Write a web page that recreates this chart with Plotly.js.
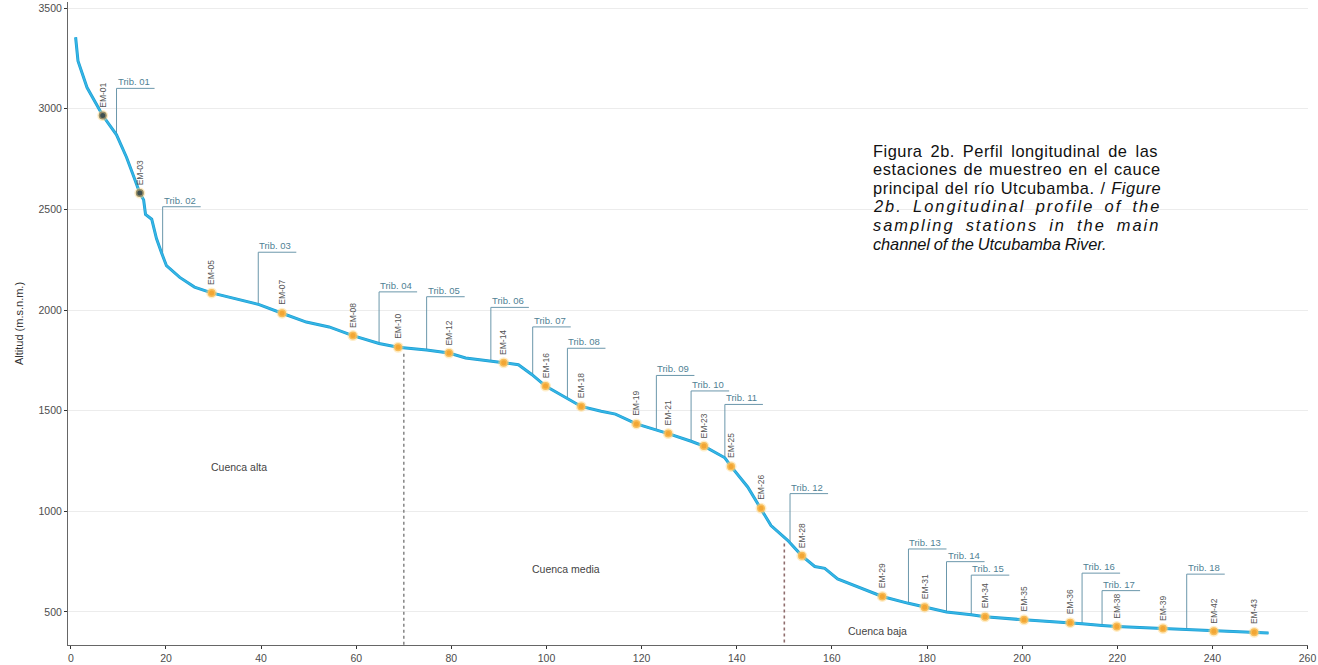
<!DOCTYPE html>
<html>
<head>
<meta charset="utf-8">
<script src="https://cdn.plot.ly/plotly-3.0.1.min.js"></script>
<style>html,body{margin:0;padding:0;background:#fff;}#chart{width:1318px;height:665px;}</style>
</head>
<body>
<div id="chart"></div>
<script>
// River longitudinal profile (km from source, altitude m.s.n.m.)
const profileKm = [1.0, 1.5, 3.4, 5.5, 6.7, 9.6, 11.7, 13.0, 14.5, 15.3, 15.7, 17.0, 18.0, 19.1, 20.1, 22.9, 26.0, 29.6, 34.0, 39.6, 44.4, 49.5, 54.3, 59.3, 64.8, 68.8, 74.8, 79.5, 83.0, 88.3, 91.0, 94.1, 96.9, 99.8, 104.6, 107.3, 111.5, 114.5, 118.9, 123.1, 125.6, 130.4, 133.1, 137.5, 138.8, 142.3, 145.1, 147.2, 150.7, 153.7, 156.4, 158.5, 161.2, 165.4, 170.6, 176.1, 179.5, 184.1, 189.3, 192.2, 200.4, 210.1, 212.6, 216.8, 219.9, 229.6, 234.6, 240.3, 248.8, 251.8];
const profileAlt = [3355, 3237, 3105, 3020, 2966, 2870, 2759, 2677, 2581, 2547, 2475, 2451, 2355, 2282, 2220, 2162, 2114, 2085, 2061, 2027, 1984, 1940, 1916, 1873, 1834, 1815, 1801, 1786, 1762, 1748, 1738, 1728, 1680, 1622, 1560, 1521, 1497, 1483, 1434, 1406, 1386, 1348, 1324, 1266, 1223, 1121, 1015, 929, 856, 779, 726, 717, 664, 625, 577, 543, 524, 500, 486, 476, 461, 447, 442, 433, 428, 418, 413, 404, 399, 395];

// Sampling stations
const stationNames = ["EM-01", "EM-03", "EM-05", "EM-07", "EM-08", "EM-10", "EM-12", "EM-14", "EM-16", "EM-18", "EM-19", "EM-21", "EM-23", "EM-25", "EM-26", "EM-28", "EM-29", "EM-31", "EM-34", "EM-35", "EM-36", "EM-38", "EM-39", "EM-42", "EM-43"];
const stationKm = [6.7, 14.5, 29.6, 44.4, 59.3, 68.8, 79.5, 91.0, 99.8, 107.3, 118.9, 125.6, 133.1, 138.8, 145.1, 153.7, 170.6, 179.5, 192.2, 200.4, 210.1, 219.9, 229.6, 240.3, 248.8];
const stationAlt = [2966, 2581, 2085, 1984, 1873, 1815, 1786, 1738, 1622, 1521, 1434, 1386, 1324, 1223, 1015, 779, 577, 524, 476, 461, 447, 428, 418, 404, 399];

// Tributaries (junction km and label-leader top altitude)
const tribNames = ["Trib. 01", "Trib. 02", "Trib. 03", "Trib. 04", "Trib. 05", "Trib. 06", "Trib. 07", "Trib. 08", "Trib. 09", "Trib. 10", "Trib. 11", "Trib. 12", "Trib. 13", "Trib. 14", "Trib. 15", "Trib. 16", "Trib. 17", "Trib. 18"];
const tribKm = [9.6, 19.3, 39.4, 64.8, 74.8, 88.3, 97.1, 104.4, 123.1, 130.4, 137.5, 151.2, 176.1, 184.1, 189.3, 212.6, 216.8, 234.6];
const tribTop = [3101, 2513, 2287, 2090, 2066, 2013, 1916, 1810, 1675, 1598, 1531, 1088, 813, 750, 683, 693, 606, 688];

// Basin boundaries and zone labels
const boundaryKm = [70, 150];
const zoneNames = ["Cuenca alta", "Cuenca media", "Cuenca baja"];
const zoneKm = [35.4, 104.2, 169.6];
const zoneAlt = [1218, 712, 404];

const xTicks = [0, 20, 40, 60, 80, 100, 120, 140, 160, 180, 200, 220, 240, 260];
const yTicks = [500, 1000, 1500, 2000, 2500, 3000, 3500];

const Y_MIN = 336, Y_MAX = 3530;

function riverAt(km) {
  if (km <= profileKm[0]) return profileAlt[0];
  for (let i = 1; i < profileKm.length; i++) {
    if (km <= profileKm[i]) {
      const t = (km - profileKm[i-1]) / (profileKm[i] - profileKm[i-1]);
      return profileAlt[i-1] + t * (profileAlt[i] - profileAlt[i-1]);
    }
  }
  return profileAlt[profileAlt.length - 1];
}

const UNDER = 8; // underline length in km
const tx = [], ty = [];
tribKm.forEach((k, i) => {
  tx.push(k, k, k + UNDER, null);
  ty.push(riverAt(k), tribTop[i], tribTop[i], null);
});

const traces = [];
boundaryKm.forEach((k, i) => {
  traces.push({
    x: [k, k], y: [riverAt(k) - 30, Y_MIN], mode: 'lines', hoverinfo: 'skip',
    line: {color: i === 0 ? '#8c8c8c' : '#8f6d6d', width: 1.6, dash: 'dot'}
  });
});
traces.push({x: tx, y: ty, mode: 'lines', hoverinfo: 'skip', connectgaps: false,
  line: {color: '#6b97ab', width: 1}});
traces.push({x: profileKm, y: profileAlt, mode: 'lines', hoverinfo: 'skip',
  line: {color: '#1f9fd3', width: 3}});
traces.push({x: profileKm, y: profileAlt, mode: 'lines', hoverinfo: 'skip',
  line: {color: '#35b6e6', width: 1.6}});
traces.push({x: stationKm, y: stationAlt, mode: 'markers', hoverinfo: 'skip',
  marker: {size: 8, color: stationNames.map((n, i) => i < 2 ? '#3e5050' : '#f2a634'),
    line: {color: 'rgba(255,214,130,0.45)', width: 3}}});

const annotations = [];
stationNames.forEach((n, i) => {
  annotations.push({x: stationKm[i], y: stationAlt[i], xref: 'x', yref: 'y', text: n,
    showarrow: false, textangle: -90, xanchor: 'center', yanchor: 'bottom', yshift: 6,
    font: {family: 'Liberation Sans, Arial, sans-serif', size: 8.5, color: '#555'}});
});
tribNames.forEach((n, i) => {
  annotations.push({x: tribKm[i], y: tribTop[i], xref: 'x', yref: 'y', text: n,
    showarrow: false, xanchor: 'left', yanchor: 'bottom', yshift: -1, xshift: -1,
    font: {family: 'Liberation Sans, Arial, sans-serif', size: 9.5, color: '#4f7f94'}});
});
zoneNames.forEach((n, i) => {
  annotations.push({x: zoneKm[i], y: zoneAlt[i], xref: 'x', yref: 'y', text: n,
    showarrow: false, xanchor: 'center', yanchor: 'middle',
    font: {family: 'Liberation Sans, Arial, sans-serif', size: 10.5, color: '#444'}});
});

// caption (one annotation per printed line, justified by spacing)
const captionLines = [
  '<span style="letter-spacing:0.5px;word-spacing:3px">Figura 2b. Perfil longitudinal de las</span>',
  '<span style="letter-spacing:0.6px;word-spacing:1px">estaciones de muestreo en el cauce</span>',
  '<span style="letter-spacing:0.55px;word-spacing:0.7px">principal del río Utcubamba. / <i>Figure</i></span>',
  '<i><span style="letter-spacing:2px;word-spacing:3.7px">2b. Longitudinal profile of the</span></i>',
  '<i><span style="letter-spacing:2px;word-spacing:4.5px">sampling stations in the main</span></i>',
  '<i><span style="letter-spacing:-0.1px;word-spacing:-0.4px">channel of the Utcubamba River.</span></i>'
];
const PLOT_TOP = 2, PLOT_BOTTOM = 645, PLOT_LEFT = 68, PLOT_RIGHT = 1308;
const capX = 872, capY0 = 151, capDY = 18.5;
captionLines.forEach((t, i) => {
  annotations.push({xref: 'paper', yref: 'paper',
    x: (capX - PLOT_LEFT) / (PLOT_RIGHT - PLOT_LEFT),
    y: (PLOT_BOTTOM - (capY0 + i * capDY)) / (PLOT_BOTTOM - PLOT_TOP),
    text: t, showarrow: false, xanchor: 'left', yanchor: 'middle', align: 'left',
    borderpad: 0,
    font: {family: 'Liberation Sans, Arial, sans-serif', size: 16.4, color: '#111'}});
});

const layout = {
  width: 1318, height: 665,
  margin: {l: PLOT_LEFT, r: 1318 - PLOT_RIGHT, t: PLOT_TOP, b: 665 - PLOT_BOTTOM},
  paper_bgcolor: '#fff', plot_bgcolor: '#fff',
  showlegend: false, hovermode: false,
  font: {family: 'Liberation Sans, Arial, sans-serif', color: '#4d4d4d'},
  xaxis: {range: [-0.6, 260.1], tickvals: xTicks, ticktext: xTicks.map(String),
    showgrid: false, zeroline: false, showline: true, linecolor: '#666', linewidth: 1,
    ticks: 'outside', ticklen: 3, tickcolor: '#333', tickfont: {size: 10.5, color: '#4d4d4d'}},
  yaxis: {range: [Y_MIN, Y_MAX], tickvals: yTicks, ticktext: yTicks.map(String),
    showgrid: true, gridcolor: '#ececec', gridwidth: 1, zeroline: false,
    showline: true, linecolor: '#666', linewidth: 1,
    ticks: 'outside', ticklen: 3, tickcolor: '#333', tickfont: {size: 10.5, color: '#4d4d4d'},
    title: {text: 'Altitud (m.s.n.m.)', font: {size: 11, color: '#333'}, standoff: 12}},
  annotations: annotations
};

Plotly.newPlot('chart', traces, layout, {displayModeBar: false, staticPlot: true});
</script>
</body>
</html>
